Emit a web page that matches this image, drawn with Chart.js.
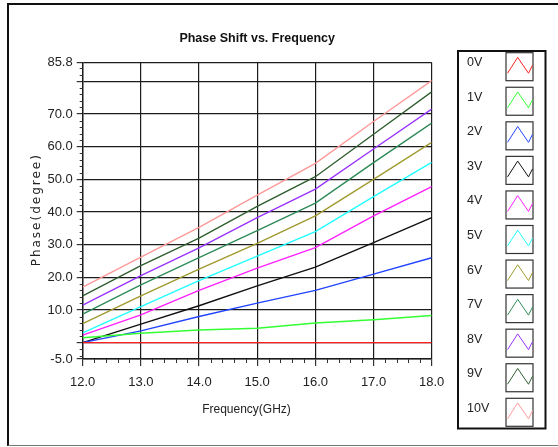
<!DOCTYPE html>
<html>
<head>
<meta charset="utf-8">
<title>Phase Shift vs. Frequency</title>
<script src="https://cdn.jsdelivr.net/npm/chart.js@4.4.1/dist/chart.umd.min.js"></script>
<style>
  html, body { margin: 0; padding: 0; background: #fff; overflow: hidden; }
  #wrap { position: relative; width: 558px; height: 447px; overflow: hidden; }
  #frame {
    position: absolute; left: 7px; top: 3px; right: -10px; bottom: 1px;
    border-top: 2px solid #111; border-left: 2.5px solid #111; border-bottom: 1.5px solid #777;
    pointer-events: none;
  }
  canvas { position: absolute; left: 0; top: 0; }
</style>
</head>
<body>
<div id="wrap">
  <canvas id="phaseChart" width="558" height="447"></canvas>
  <div id="frame"></div>
</div>
<script>
// Data (phase in degrees vs frequency in GHz)
const frequencies = [12, 13, 14, 15, 16, 17, 18];
const biasLabels = ['0V', '1V', '2V', '3V', '4V', '5V', '6V', '7V', '8V', '9V', '10V'];

const phase0V  = [0, 0, 0, 0, 0, 0, 0];
const phase1V  = [1.5, 2.9, 3.9, 4.4, 6.0, 7.0, 8.3];
const phase2V  = [0, 3.6, 8.0, 12.1, 16.0, 21.0, 26.0];
const phase3V  = [0, 5.7, 11.3, 17.4, 23.1, 30.6, 38.3];
const phase4V  = [2.3, 8.5, 16.0, 22.8, 29.1, 38.8, 47.8];
const phase5V  = [3.0, 11.0, 19.0, 26.5, 34.0, 44.7, 55.2];
const phase6V  = [5.8, 14.3, 22.5, 30.4, 38.8, 50.0, 61.3];
const phase7V  = [8.7, 17.7, 26.0, 34.3, 42.7, 55.1, 67.2];
const phase8V  = [11.5, 20.5, 29.0, 38.3, 47.0, 59.3, 71.5];
const phase9V  = [14.3, 23.6, 32.0, 41.7, 50.8, 63.8, 76.8];
const phase10V = [17.0, 26.2, 35.3, 45.2, 54.9, 67.7, 80.2];

const phaseSeries = [phase0V, phase1V, phase2V, phase3V, phase4V, phase5V,
                     phase6V, phase7V, phase8V, phase9V, phase10V];

const seriesColors = ['#ff2020', '#33ff33', '#2244ff', '#111111', '#ff22ff', '#22ffff',
                      '#a09a30', '#2e8b57', '#9933ff', '#2f5f2f', '#ff9999'];

const xTickValues = [12, 13, 14, 15, 16, 17, 18];
const yTickValues = [-5, 0, 10, 20, 30, 40, 50, 60, 70, 80, 85.8];
const yUnlabeled = [0, 80];
const xMinorStep = 0.2;
const yMinorStep = 2;

const SANS = "'Liberation Sans', Arial, sans-serif";
const GRID = '#1c1c1c';

/* --- Extra drawing: titles, minor ticks, legend panel --- */
const decorPlugin = {
  id: 'decor',
  afterDraw(chart) {
    const ctx = chart.ctx;
    const area = chart.chartArea;
    const xs = chart.scales.x;
    const ys = chart.scales.y;
    ctx.save();

    // minor ticks
    ctx.strokeStyle = '#333';
    ctx.lineWidth = 1;
    ctx.beginPath();
    for (let v = xs.min + xMinorStep; v < xs.max - 1e-6; v += xMinorStep) {
      if (Math.abs(v - Math.round(v)) < 1e-6) continue;
      const px = Math.round(xs.getPixelForValue(v)) + 0.5;
      ctx.moveTo(px, area.bottom);
      ctx.lineTo(px, area.bottom + 4);
    }
    for (let v = -4; v < ys.max; v += yMinorStep) {
      if (v % 10 === 0) continue;
      const py = Math.round(ys.getPixelForValue(v)) + 0.5;
      ctx.moveTo(area.left - 3, py);
      ctx.lineTo(area.left, py);
    }
    ctx.stroke();

    // chart title
    ctx.fillStyle = '#111';
    ctx.textAlign = 'center';
    ctx.textBaseline = 'middle';
    ctx.font = 'bold 12.5px ' + SANS;
    ctx.fillText('Phase Shift vs. Frequency', (area.left + area.right) / 2, 38.5);

    // x axis title
    ctx.fillStyle = '#222';
    ctx.font = '12px ' + SANS;
    ctx.fillText('Frequency(GHz)', 246.5, 410);

    // y axis title (letter spaced)
    ctx.save();
    ctx.translate(37, (area.top + area.bottom) / 2);
    ctx.rotate(-Math.PI / 2);
    ctx.font = "12px 'DejaVu Sans', sans-serif";
    ctx.letterSpacing = '2px';
    ctx.fillText('Phase(degree)', 1, 0);
    ctx.restore();

    // legend panel
    const boxL = 458, boxT = 51, boxW = 87.5, boxH = 377.5;
    ctx.strokeStyle = '#111';
    ctx.lineWidth = 2;
    ctx.strokeRect(boxL, boxT, boxW, boxH);
    const pitch = 34.56;
    ctx.textAlign = 'left';
    ctx.font = '12.5px ' + SANS;
    chart.data.datasets.forEach((ds, i) => {
      const top = 52.7 + i * pitch;
      const sx = 506;
      ctx.strokeStyle = '#333';
      ctx.lineWidth = 1.2;
      ctx.strokeRect(sx, top, 27, 28);
      ctx.strokeStyle = ds.borderColor;
      ctx.lineWidth = 1;
      ctx.beginPath();
      ctx.moveTo(sx + 1.5, top + 20.5);
      ctx.lineTo(sx + 11.7, top + 4.7);
      ctx.lineTo(sx + 22.5, top + 20.5);
      ctx.lineTo(sx + 26.5, top + 12.5);
      ctx.stroke();
      ctx.fillStyle = '#222';
      ctx.fillText(ds.label, 467, top + 10);
    });

    ctx.restore();
  }
};

const datasets = phaseSeries.map((vals, i) => ({
  label: biasLabels[i],
  data: frequencies.map((f, j) => ({ x: f, y: vals[j] })),
  borderColor: seriesColors[i],
  backgroundColor: seriesColors[i],
  borderWidth: 1.4,
  pointRadius: 0,
  tension: 0,
  fill: false
}));

new Chart(document.getElementById('phaseChart'), {
  type: 'line',
  data: { datasets },
  options: {
    responsive: false,
    animation: false,
    devicePixelRatio: 1,
    layout: { padding: { left: 0, top: 62.4, right: 126.3, bottom: 0 } },
    plugins: {
      legend: { display: false },
      title: { display: false },
      tooltip: { enabled: false }
    },
    scales: {
      x: {
        type: 'linear',
        min: 12,
        max: 18,
        afterBuildTicks: scale => { scale.ticks = xTickValues.map(v => ({ value: v })); },
        afterFit: scale => { scale.height = 88; },
        grid: { color: GRID, lineWidth: 1.2, tickLength: 7, tickColor: '#333' },
        border: { display: true, color: GRID, width: 1.4 },
        ticks: {
          color: '#222',
          padding: 9,
          maxRotation: 0,
          font: { family: SANS, size: 13 },
          callback: v => Number(v).toFixed(1)
        }
      },
      y: {
        type: 'linear',
        min: -5,
        max: 85.8,
        afterBuildTicks: scale => { scale.ticks = yTickValues.map(v => ({ value: v })); },
        afterFit: scale => { scale.width = 82.7; },
        grid: { color: GRID, lineWidth: 1.2, tickLength: 6, tickColor: '#333' },
        border: { display: true, color: GRID, width: 1.4 },
        ticks: {
          color: '#222',
          padding: 4,
          font: { family: SANS, size: 13 },
          callback: v => yUnlabeled.includes(v) ? '' : Number(v).toFixed(1)
        }
      }
    }
  },
  plugins: [decorPlugin]
});
</script>
</body>
</html>
